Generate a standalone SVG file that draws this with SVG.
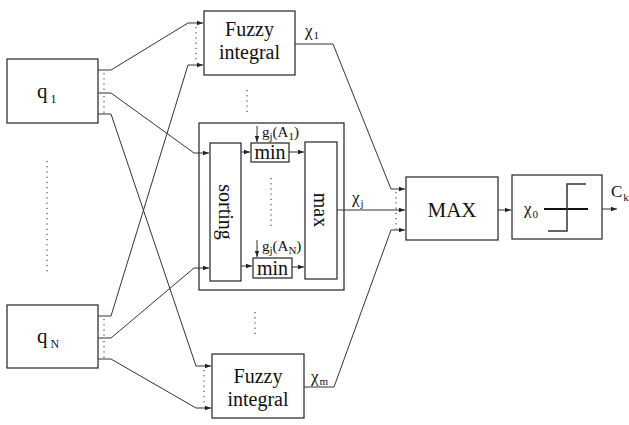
<svg xmlns="http://www.w3.org/2000/svg" width="629" height="425" viewBox="0 0 629 425">
<defs>
<style>
.box{fill:#fff;stroke:#222;stroke-width:1.2}
.ln{fill:none;stroke:#333;stroke-width:1}
.dot{fill:none;stroke:#222;stroke-width:1;stroke-dasharray:1.2 4}
text{font-family:"Liberation Serif","Times New Roman",serif;fill:#111}
.t16{font-size:20px}
.t14{font-size:15px}
.chi{font-size:17px}
.sub{font-size:11px}
</style>
<marker id="ah" markerWidth="6" markerHeight="6" refX="6" refY="3" orient="auto" markerUnits="userSpaceOnUse">
<path d="M0,0.8 L6,3 L0,5.2 Z" fill="#222"/>
</marker>
</defs>
<rect width="629" height="425" fill="#fff"/>

<g id="q1">
<rect class="box" x="7" y="59" width="91" height="64"/>
<text x="37" y="98" font-size="21">q<tspan font-size="12" dx="3" dy="5">1</tspan></text>
<path class="ln" d="M98,70 H111 M98,93 H111 M98,114 H111"/>
<path class="dot" d="M104,73 V92 M104,96 V113"/>
</g>

<g id="qN">
<rect class="box" x="7" y="305" width="91" height="63"/>
<text x="37" y="343" font-size="21">q<tspan font-size="12" dx="3" dy="5">N</tspan></text>
<path class="ln" d="M98,316 H111 M98,338 H111 M98,359 H111"/>
<path class="dot" d="M104,319 V337 M104,341 V358"/>
</g>

<path class="dot" d="M47,161 V272"/>

<g id="fuzzy1">
<rect class="box" x="204" y="11" width="91" height="64"/>
<text class="t16" x="249.500" y="36" text-anchor="middle">Fuzzy</text>
<text class="t16" x="249.500" y="59" text-anchor="middle">integral</text>
<path class="dot" d="M196,27 V63"/>
</g>

<path class="dot" d="M247,90 V112"/>

<g id="fuzzym">
<rect class="box" x="212" y="354" width="92" height="64"/>
<text class="t16" x="258" y="383" text-anchor="middle">Fuzzy</text>
<text class="t16" x="258" y="406" text-anchor="middle">integral</text>
<path class="dot" d="M204,370 V406"/>
</g>

<path class="dot" d="M255,312 V336"/>

<g id="central">
<rect class="box" x="199" y="123" width="145" height="167"/>
<g id="sorting">
<rect class="box" x="210" y="143" width="31" height="138"/>
<text class="t16" transform="translate(219,212) rotate(90)" text-anchor="middle">sorting</text>
</g>
<g id="min1">
<rect class="box" x="251" y="143" width="38" height="19"/>
<text class="t16" x="270" y="159" text-anchor="middle">min</text>
<path class="ln" d="M257,126 V142" marker-end="url(#ah)"/>
<text class="t14" x="262" y="137">g<tspan class="sub" dy="3">j</tspan><tspan dy="-3">(A</tspan><tspan class="sub" dy="3">1</tspan><tspan dy="-3">)</tspan></text>
</g>
<g id="minN">
<rect class="box" x="253" y="258" width="39" height="20"/>
<text class="t16" x="272.500" y="275" text-anchor="middle">min</text>
<path class="ln" d="M257,240 V257" marker-end="url(#ah)"/>
<text class="t14" x="262" y="251">g<tspan class="sub" dy="3">j</tspan><tspan dy="-3">(A</tspan><tspan class="sub" dy="3">N</tspan><tspan dy="-3">)</tspan></text>
</g>
<path class="dot" d="M271,178 V228"/>
<g id="max">
<rect class="box" x="305" y="142" width="32" height="137"/>
<text class="t16" transform="translate(314,210) rotate(90)" text-anchor="middle">max</text>
</g>
</g>

<g id="MAX">
<rect class="box" x="406" y="177" width="92" height="63"/>
<text x="452" y="217" font-size="21" text-anchor="middle">MAX</text>
<path class="dot" d="M396,192 V229"/>
</g>

<g id="threshold">
<rect class="box" x="512" y="175" width="90" height="64"/>
<text class="chi" x="524" y="214">χ<tspan class="sub" dx="1" dy="4">0</tspan></text>
<path fill="none" stroke="#111" stroke-width="2" d="M544,209 H588"/>
<path fill="none" stroke="#333" stroke-width="1.5" d="M548,231 H567 V184 H586"/>
</g>

<g id="connectors">
<path class="ln" d="M111,70 L188,23 H203" marker-end="url(#ah)"/>
<path class="ln" d="M111,316 L188,65 H203" marker-end="url(#ah)"/>
<path class="ln" d="M111,93 L194,153 H209" marker-end="url(#ah)"/>
<path class="ln" d="M111,338 L194,268 H209" marker-end="url(#ah)"/>
<path class="ln" d="M111,114 L196,366 H211" marker-end="url(#ah)"/>
<path class="ln" d="M111,359 L196,408 H211" marker-end="url(#ah)"/>
<path class="ln" d="M241,152 H250" marker-end="url(#ah)"/>
<path class="ln" d="M241,266 H252" marker-end="url(#ah)"/>
<path class="ln" d="M289,152 H304" marker-end="url(#ah)"/>
<path class="ln" d="M292,267 H304" marker-end="url(#ah)"/>
<path class="ln" d="M337,210 H405" marker-end="url(#ah)"/>
<path class="ln" d="M295,44 H333 L391,189 H405" marker-end="url(#ah)"/>
<path class="ln" d="M304,387 H334 L391,230 H405" marker-end="url(#ah)"/>
<path class="ln" d="M498,210 H511" marker-end="url(#ah)"/>
<path class="ln" d="M602,209 H617" marker-end="url(#ah)"/>
<text class="chi" x="305" y="36">χ<tspan class="sub" dx="1" dy="3">1</tspan></text>
<text class="chi" x="311" y="382">χ<tspan class="sub" dx="1" dy="3">m</tspan></text>
<text class="chi" x="352" y="203">χ<tspan class="sub" dx="1" dy="4">j</tspan></text>
<text class="chi" x="611" y="197">C<tspan class="sub" dx="1" dy="4">k</tspan></text>
</g>
</svg>
